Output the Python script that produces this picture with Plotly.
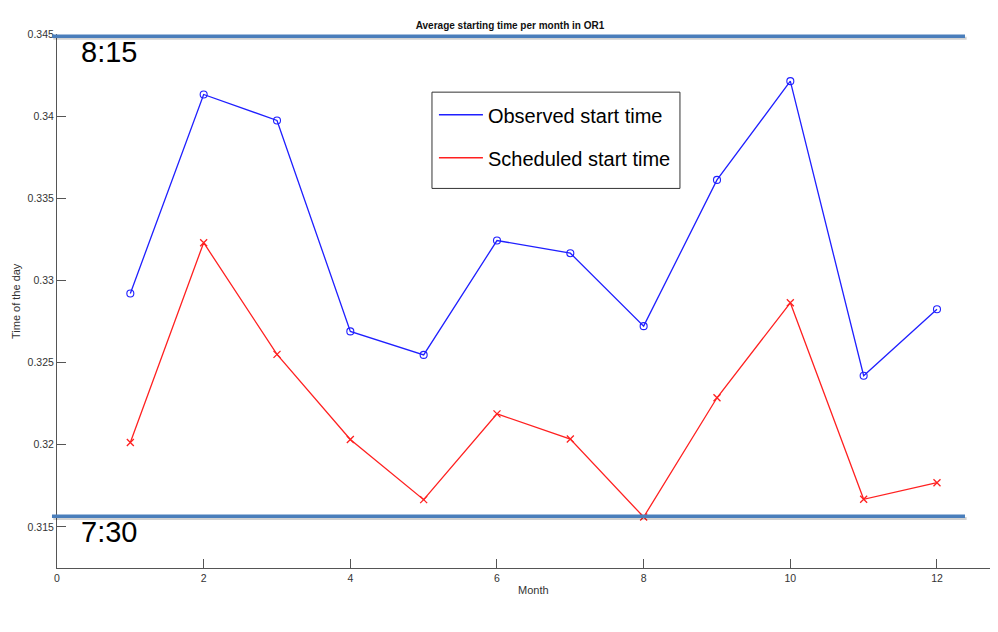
import plotly.graph_objects as go

# ---- data ----
months = [1, 2, 3, 4, 5, 6, 7, 8, 9, 10, 11, 12]
observed = [0.32921, 0.34132, 0.33974, 0.32690, 0.32547, 0.33243, 0.33166, 0.32722,
            0.33612, 0.34213, 0.32420, 0.32825]
scheduled = [0.32014, 0.33230, 0.32550, 0.32032, 0.31666, 0.32188, 0.32035, 0.31560,
             0.32286, 0.32864, 0.31668, 0.31769]
ytick_vals = [0.315, 0.32, 0.325, 0.33, 0.335, 0.34, 0.345]
ytick_text = ["0.315", "0.32", "0.325", "0.33", "0.335", "0.34", "0.345"]
xtick_vals = [0, 2, 4, 6, 8, 10, 12]
ref_levels = [0.34487, 0.31565]
ref_labels = ["8:15", "7:30"]

FONT = "Liberation Sans, Arial, Helvetica, sans-serif"
BLUE = "#1f1fff"
RED = "#ff2020"
AXC = "#555555"

fig = go.Figure()
fig.add_trace(go.Scatter(x=months, y=observed, mode="lines+markers",
                         line=dict(color=BLUE, width=1.3),
                         marker=dict(symbol="circle-open", size=7, color=BLUE, line=dict(width=1.1)),
                         showlegend=False))
fig.add_trace(go.Scatter(x=months, y=scheduled, mode="lines+markers",
                         line=dict(color=RED, width=1.3),
                         marker=dict(symbol="x-thin-open", size=7, color=RED, line=dict(width=1.3, color=RED)),
                         showlegend=False))
# legend entries (lines only, as in the reference)
fig.add_trace(go.Scatter(x=[None], y=[None], mode="lines", name="Observed start time",
                         line=dict(color=BLUE, width=1.6), legendgroup="a"))
fig.add_trace(go.Scatter(x=[None], y=[None], mode="lines", name="Scheduled start time",
                         line=dict(color=RED, width=1.6), legendgroup="b"))

shapes = []
annotations = []
for lvl, lab in zip(ref_levels, ref_labels):
    shapes.append(dict(type="line", xref="paper", yref="y", x0=-0.004, x1=0.975,
                       y0=lvl - 0.00013, y1=lvl - 0.00013,
                       line=dict(color="rgba(0,0,0,0.18)", width=3), layer="above"))
    shapes.append(dict(type="line", xref="paper", yref="y", x0=-0.0054, x1=0.9732,
                       y0=lvl, y1=lvl, line=dict(color="#4a7ebb", width=3.5), layer="above"))
    annotations.append(dict(text=lab, xref="x", yref="y", x=0.3, y=lvl, xanchor="left",
                            yanchor="middle", yshift=-16, showarrow=False,
                            font=dict(family=FONT, size=29, color="#000000")))

# legend frame
shapes.append(dict(type="rect", xref="paper", yref="paper", x0=0.4019, x1=0.6677,
                   y0=0.7108, y1=0.8911, line=dict(color="#333333", width=1),
                   fillcolor="rgba(0,0,0,0)", layer="above"))

annotations.append(dict(text="Time of the day", xref="paper", yref="paper", x=-0.0439, y=0.5,
                        xanchor="center", yanchor="middle", textangle=-90, showarrow=False,
                        font=dict(family=FONT, size=11, color="#333333")))
annotations.append(dict(text="Month", xref="paper", yref="paper", x=0.5102, y=-0.0417,
                        xanchor="center", yanchor="middle", showarrow=False,
                        font=dict(family=FONT, size=11, color="#333333")))

fig.update_layout(
    width=982, height=616,
    margin=dict(l=49, r=0, t=25.5, b=56.3, pad=0),
    paper_bgcolor="white", plot_bgcolor="white",
    title=dict(text="<b>Average starting time per month in OR1</b>", x=0.5112, xanchor="center",
               y=0.9724, yanchor="middle", font=dict(family=FONT, size=10, color="#111111")),
    xaxis=dict(range=[0, 12.723], tickvals=xtick_vals, ticks="inside", ticklen=9, tickwidth=1,
               tickcolor=AXC, showline=True, linecolor=AXC, linewidth=1, mirror=False,
               showgrid=False, zeroline=False,
               tickfont=dict(family=FONT, size=10.5, color="#333333")),
    yaxis=dict(range=[0.3125, 0.345], tickvals=ytick_vals, ticktext=ytick_text, ticks="inside",
               ticklen=9, tickwidth=1, tickcolor=AXC, showline=True, linecolor=AXC, linewidth=1,
               mirror=False, showgrid=False, zeroline=False,
               tickfont=dict(family=FONT, size=10.5, color="#333333")),
    legend=dict(x=0.404, y=0.8854, xanchor="left", yanchor="top",
                borderwidth=0, bgcolor="rgba(0,0,0,0)",
                font=dict(family=FONT, size=20, color="#000000"),
                tracegroupgap=14, itemwidth=44),
    shapes=shapes,
    annotations=annotations,
)

fig.write_html("out.html")
